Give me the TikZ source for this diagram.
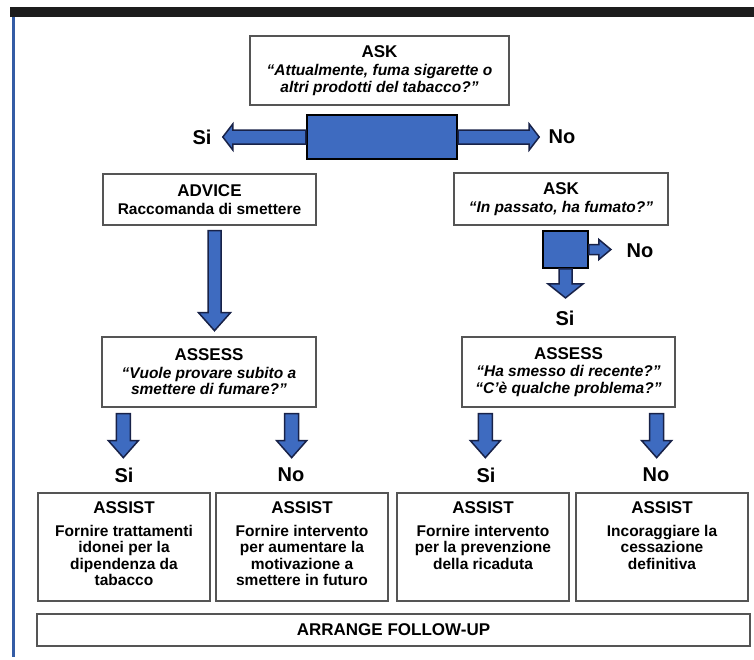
\documentclass[tikz,border=0pt]{standalone}
\usepackage{xcolor}
\usepackage{fontspec}
\setmainfont{Liberation Sans}
\usepackage{tikz}
\usetikzlibrary{positioning, calc}
\definecolor{arrowblue}{RGB}{62,107,192}
\definecolor{arrowline}{RGB}{24,34,72}
\definecolor{boxgray}{RGB}{85,85,85}
\definecolor{barblack}{RGB}{28,28,28}
\definecolor{edgeblue}{RGB}{52,92,165}
\newcommand{\headfont}{\fontsize{17}{20}\selectfont\bfseries}
\newcommand{\bodyfont}{\fontsize{15.5}{16.5}\selectfont\bfseries}
\newcommand{\answerfont}{\fontsize{20}{22}\selectfont\bfseries}
\newcommand{\assisttext}[1]{\parbox[c][90pt][t]{170pt}{\centering #1}}
\newcommand{\arrowdown}[5]{\draw[blockarrow] (#1) ++(-#2,0) -- ++(0,#3) -- ++({#2-#4},0) -- ++(#4,#5) -- ++(#4,-#5) -- ++({#2-#4},0) -- ++(0,-#3) -- cycle;}
\newcommand{\arrowright}[5]{\draw[blockarrow] (#1) ++(0,-#2) -- ++(#3,0) -- ++(0,{#2-#4}) -- ++(#5,#4) -- ++(-#5,#4) -- ++(0,{#2-#4}) -- ++(-#3,0) -- cycle;}
\newcommand{\arrowleft}[5]{\draw[blockarrow] (#1) ++(0,-#2) -- ++(-#3,0) -- ++(0,{#2-#4}) -- ++(-#5,#4) -- ++(#5,#4) -- ++(0,{#2-#4}) -- ++(#3,0) -- cycle;}
\tikzset{
	box/.style={draw=boxgray, line width=1.3pt, fill=white, align=center, inner sep=0pt, font=\bodyfont},
	answer/.style={font=\answerfont, inner sep=0pt},
	blockarrow/.style={draw=arrowline, line width=1.5pt, fill=arrowblue, line join=miter},
	splitbox/.style={draw=black, fill=arrowblue, inner sep=0pt}
}

\begin{document}
\begin{tikzpicture}[x=1pt, y=-1pt]
	\useasboundingbox (0,0) rectangle (754,659);
	\fill[barblack] (10,7) rectangle (754,17);
	\fill[edgeblue] (12,17) rectangle (15,657);

	\node[box, minimum width=259, minimum height=69] (ask1) at (379.5,70.5) {{\headfont ASK}\\[2pt] \itshape “Attualmente, fuma sigarette o\\ \itshape altri prodotti del tabacco?”};
	\node[box, minimum width=213, minimum height=51] (advice) at (209.5,199.5) {{\headfont ADVICE}\\[1pt] Raccomanda di smettere};
	\node[box, minimum width=214, minimum height=52] (ask2) at (561,199) {{\headfont ASK}\\[1pt] \itshape “In passato, ha fumato?”};
	\node[box, minimum width=214, minimum height=70] (assessL) at (209,372) {{\headfont ASSESS}\\[1pt] \itshape “Vuole provare subito a\\ \itshape smettere di fumare?”};
	\node[box, minimum width=213, minimum height=70] (assessR) at (568.5,372) {{\headfont ASSESS}\\[1pt] \itshape “Ha smesso di recente?”\\ \itshape “C’è qualche problema?”};

	\node[box, minimum width=172, minimum height=108] (assist1) at (124,547) {\assisttext{{\headfont ASSIST}\\[6pt] Fornire trattamenti\\ idonei per la\\ dipendenza da\\ tabacco}};
	\node[box, minimum width=172, minimum height=108] (assist2) at (302,547) {\assisttext{{\headfont ASSIST}\\[6pt] Fornire intervento\\ per aumentare la\\ motivazione a\\ smettere in futuro}};
	\node[box, minimum width=172, minimum height=108] (assist3) at (483,547) {\assisttext{{\headfont ASSIST}\\[6pt] Fornire intervento\\ per la prevenzione\\ della ricaduta}};
	\node[box, minimum width=172, minimum height=108] (assist4) at (662,547) {\assisttext{{\headfont ASSIST}\\[6pt] Incoraggiare la\\ cessazione\\ definitiva}};
	\node[box, minimum width=713, minimum height=32, font=\headfont] (followup) at (393.5,630) {ARRANGE FOLLOW-UP};

	\node[splitbox, line width=2.4pt, minimum width=150, minimum height=44] (split1) at (382,137) {};
	\node[splitbox, line width=1.8pt, minimum width=45, minimum height=37] (split2) at (565.5,249.5) {};

	\node[answer] (si1) at (202,137) {Si};
	\node[answer] (no1) at (562,137) {No};
	\node[answer] (no2) at (640,251) {No};
	\node[answer] (si2) at (565,318) {Si};
	\node[answer] (si3) at (124,475) {Si};
	\node[answer] (no3) at (291,475) {No};
	\node[answer] (si4) at (486,475) {Si};
	\node[answer] (no4) at (656,475) {No};

	\arrowleft{split1.west}{7}{73}{13}{10}
	\arrowright{split1.east}{7}{71}{13}{10}
	\arrowright{split2.east}{5}{10}{10}{12}
	\arrowdown{split2.south}{6.5}{15}{17.5}{14}
	\arrowdown{$(advice.south)+(5,5)$}{6.5}{82}{16}{18}
	\arrowdown{$(assessL.south west)+(22,6)$}{7}{27}{15}{17}
	\arrowdown{$(assessL.south east)+(-25,6)$}{7}{27}{15}{17}
	\arrowdown{$(assessR.south west)+(24,6)$}{7}{27}{15}{17}
	\arrowdown{$(assessR.south east)+(-19,6)$}{7}{27}{15}{17}
\end{tikzpicture}
\end{document}
